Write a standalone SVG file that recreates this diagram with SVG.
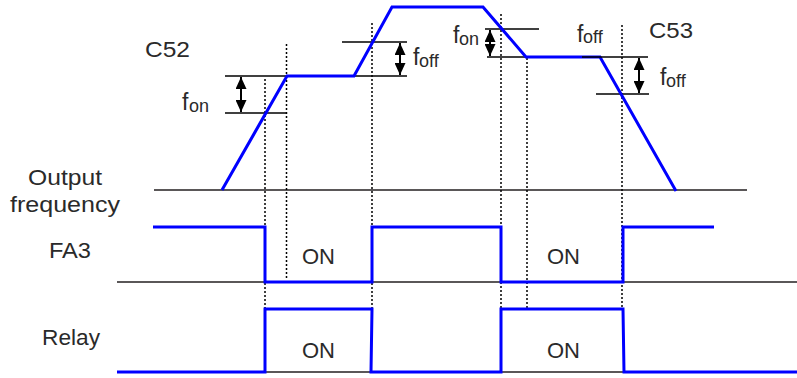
<svg xmlns="http://www.w3.org/2000/svg" width="797" height="378" viewBox="0 0 797 378">
  <defs>
    <marker id="ah" viewBox="0 0 12 11" refX="12" refY="5.5" markerWidth="12" markerHeight="11" markerUnits="userSpaceOnUse" orient="auto-start-reverse">
      <path d="M0,0 L12,5.5 L0,11 z" fill="#000"/>
    </marker>
    <style>
      .t { font-family: "Liberation Sans", Arial, sans-serif; font-size: 22px; fill: #2a2a2a; }
      .f { font-family: "Liberation Sans", Arial, sans-serif; font-size: 23px; fill: #2a2a2a; }
      .s { font-size: 18px; }
      .blue { fill: none; stroke: #0000ff; stroke-width: 3; stroke-linejoin: miter; }
      .ref { stroke: #000; stroke-width: 1.5; fill: none; }
      .base { stroke: #231f20; stroke-width: 1.5; fill: none; }
      .dot { stroke: #000; stroke-width: 1.5; stroke-dasharray: 2 2; fill: none; }
      .arr { stroke: #000; stroke-width: 2; fill: none; marker-start: url(#ah); marker-end: url(#ah); }
    </style>
  </defs>

  <g id="labels">
    <text class="t" x="28" y="185" textLength="74" lengthAdjust="spacingAndGlyphs">Output</text>
    <text class="t" x="10" y="212" textLength="110" lengthAdjust="spacingAndGlyphs">frequency</text>
    <text class="t" x="49" y="258" textLength="42" lengthAdjust="spacingAndGlyphs">FA3</text>
    <text class="t" x="42" y="345" textLength="58" lengthAdjust="spacingAndGlyphs">Relay</text>
    <text class="t" x="145" y="57" textLength="45" lengthAdjust="spacingAndGlyphs">C52</text>
    <text class="t" x="649" y="38" textLength="44" lengthAdjust="spacingAndGlyphs">C53</text>
  </g>

  <g id="baselines">
    <line class="base" x1="154" y1="190" x2="747" y2="190"/>
    <line class="base" x1="117" y1="282" x2="797" y2="282"/>
    <line class="base" x1="117" y1="372" x2="797" y2="372"/>
  </g>

  <g id="reference-lines">
    <line class="ref" x1="225" y1="76" x2="287" y2="76"/>
    <line class="ref" x1="354" y1="76" x2="407" y2="76"/>
    <line class="ref" x1="225" y1="113" x2="286" y2="113"/>
    <line class="ref" x1="342" y1="42" x2="407" y2="42"/>
    <line class="ref" x1="485" y1="29" x2="539" y2="29"/>
    <line class="ref" x1="487" y1="57" x2="540" y2="57"/>
    <line class="ref" x1="596" y1="94" x2="649" y2="94"/>
  </g>

  <g id="dotted-lines">
    <line class="dot" x1="265" y1="79" x2="265" y2="309"/>
    <line class="dot" x1="286.5" y1="44" x2="286.5" y2="280"/>
    <line class="dot" x1="372" y1="23" x2="372" y2="309"/>
    <line class="dot" x1="501" y1="14" x2="501" y2="309"/>
    <line class="dot" x1="527" y1="58" x2="527" y2="309"/>
    <line class="dot" x1="622" y1="25" x2="622" y2="309"/>
  </g>

  <g id="output-frequency">
    <polyline class="blue" points="222,190 287,76 354,76 392,7 483,7 526,57 600,57 676,191"/>
    <line class="ref" x1="582" y1="57" x2="648" y2="57"/>
  </g>

  <g id="fa3-signal">
    <polyline class="blue" points="153,227 265,227 265,282 372,282 372,227 501,227 501,282 623,282 623,227 714,227"/>
    <text class="t" x="302" y="264">ON</text>
    <text class="t" x="547" y="264">ON</text>
  </g>

  <g id="relay-signal">
    <polyline class="blue" points="117,372 265,372 265,309 372,309 371,372 501,372 501,309 623,309 624,372 797,372"/>
    <text class="t" x="302" y="358">ON</text>
    <text class="t" x="547" y="358">ON</text>
  </g>

  <g id="connectors">
    <line class="arr" x1="241" y1="77" x2="241" y2="112"/>
    <line class="arr" x1="400" y1="43" x2="400" y2="75"/>
    <line class="arr" x1="490" y1="30" x2="490" y2="56"/>
    <line class="arr" x1="639" y1="58" x2="639" y2="93"/>
  </g>

  <g id="hysteresis-labels">
    <text class="f" x="182" y="110">f<tspan class="s" x="189" y="112">on</tspan></text>
    <text class="f" x="413" y="65">f<tspan class="s" x="419" y="67">off</tspan></text>
    <text class="f" x="453" y="43">f<tspan class="s" x="459" y="45">on</tspan></text>
    <text class="f" x="577" y="42">f<tspan class="s" x="583" y="43">off</tspan></text>
    <text class="f" x="660" y="85">f<tspan class="s" x="666" y="87">off</tspan></text>
  </g>
</svg>
